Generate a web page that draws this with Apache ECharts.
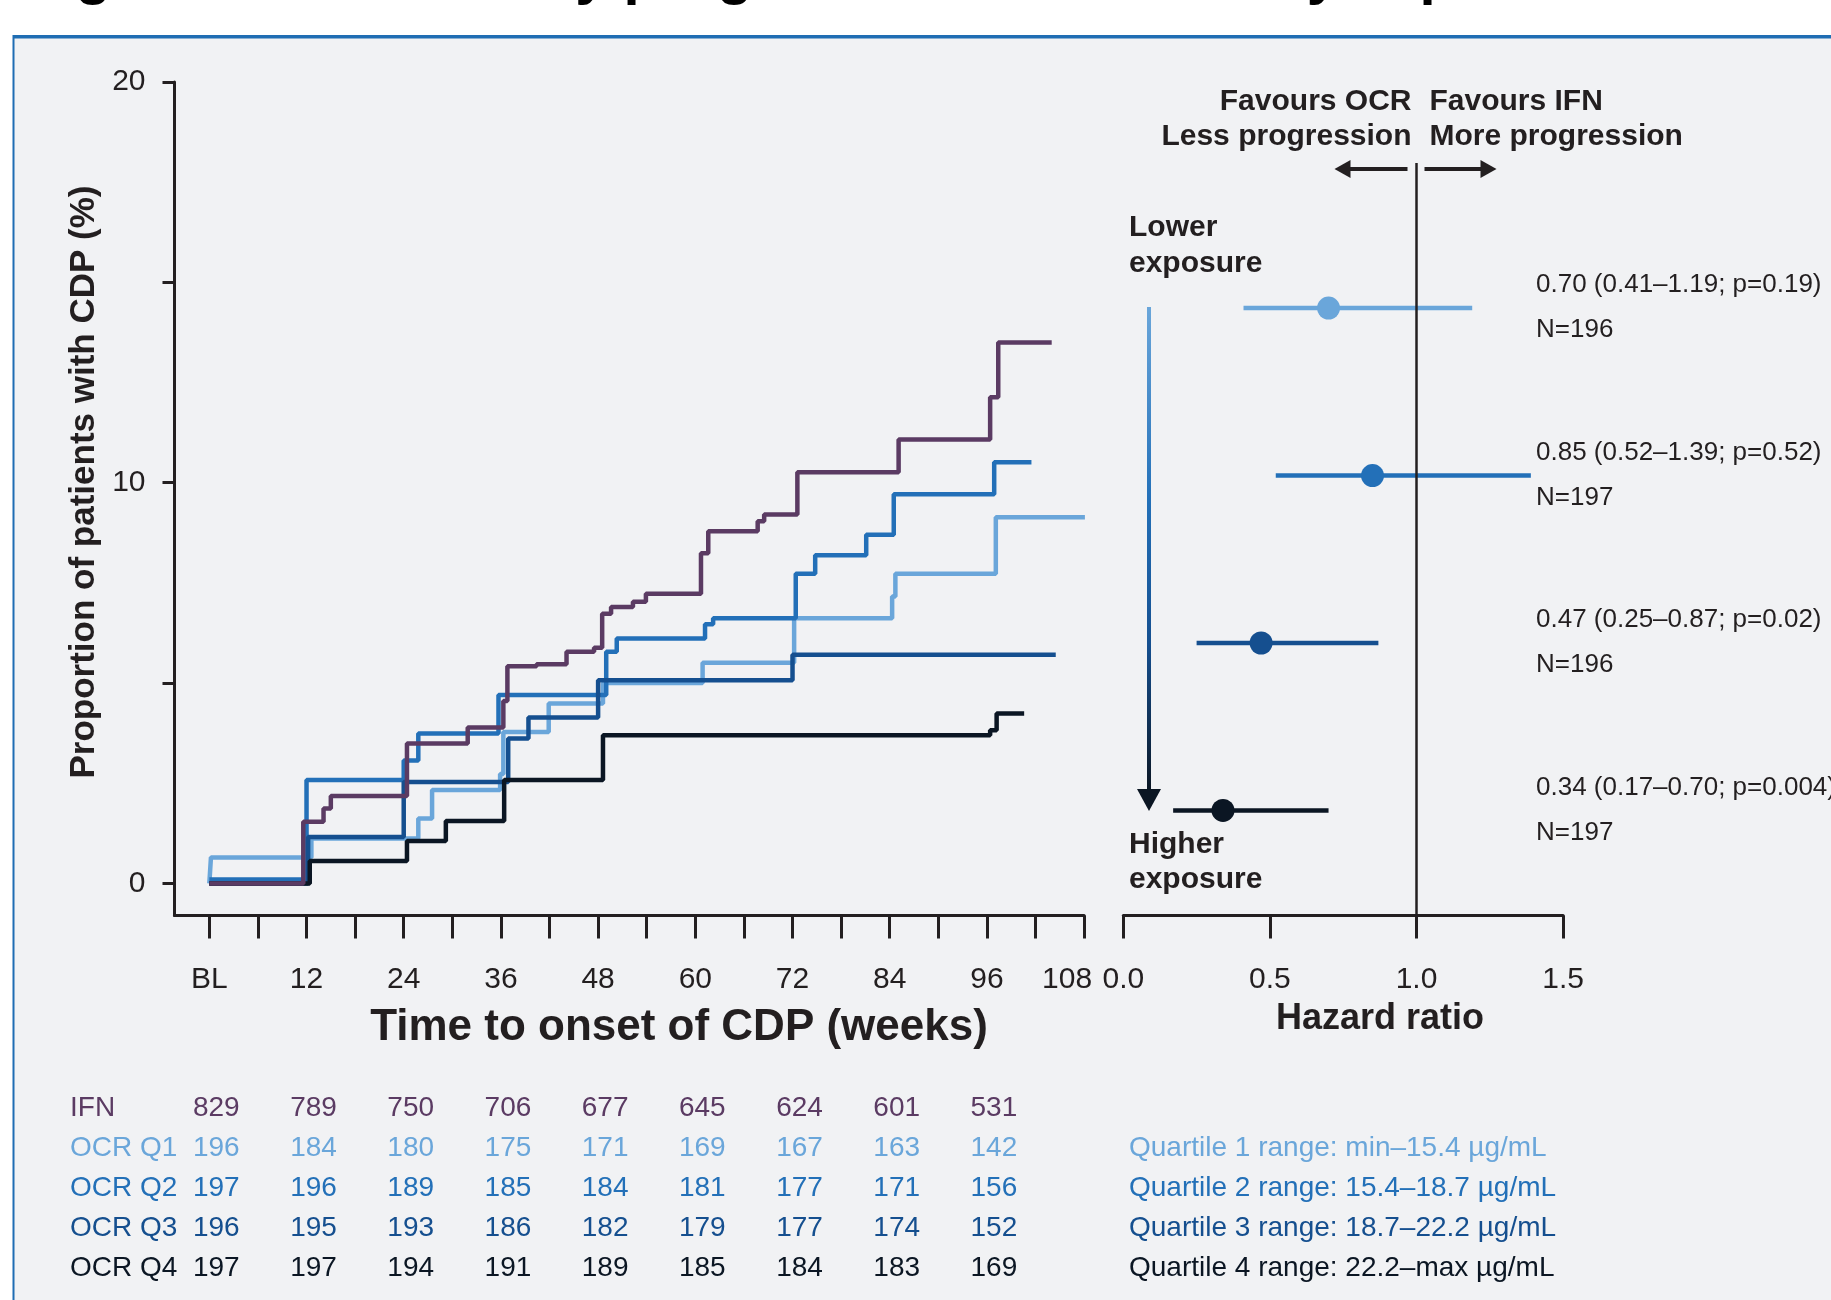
<!DOCTYPE html>
<html>
<head>
<meta charset="utf-8">
<title>Time to onset of CDP by exposure</title>
<script src="https://cdn.jsdelivr.net/npm/echarts@6/dist/echarts.min.js"></script>
<style>
  html, body { margin: 0; padding: 0; background: #fff; }
  #chart { width: 1831px; height: 1300px; }
</style>
</head>
<body>
<div id="chart"></div>
<script>
  // step curves: [week, % of patients with CDP]
  const ifnCurve = [[0, 0], [11.6, 1.54], [14.1, 1.87], [15.0, 2.18], [24.4, 3.49], [31.9, 3.89], [36.3, 4.55], [36.8, 5.42], [40.4, 5.47], [44.1, 5.78], [47.5, 5.88], [48.5, 6.73], [49.6, 6.90], [52.3, 7.03], [53.9, 7.23], [60.7, 8.24], [61.6, 8.79], [67.7, 9.04], [68.5, 9.21], [72.6, 10.26], [85.1, 11.08], [96.4, 12.13], [97.4, 13.50], [104.0, 13.50]]
  const q1Curve = [[0, 0], [0.2, 0.65], [12.6, 1.12], [25.8, 1.62], [27.5, 2.33], [35.9, 2.73], [36.3, 3.78], [41.9, 4.49], [48.6, 5.00], [60.9, 5.51], [72.2, 6.62], [84.3, 7.16], [84.7, 7.73], [97.1, 9.14], [108.1, 9.14]]
  const q2Curve = [[0, 0.1], [12.0, 2.58], [24.0, 3.07], [25.8, 3.74], [35.7, 4.70], [49.0, 5.78], [50.3, 6.11], [61.2, 6.47], [62.2, 6.62], [72.4, 7.73], [74.8, 8.19], [81.1, 8.70], [84.5, 9.71], [96.9, 10.51], [101.5, 10.51]]
  const q3Curve = [[0, 0], [12.2, 1.16], [24.0, 2.53], [36.9, 3.62], [39.4, 4.14], [48.0, 5.07], [72.0, 5.71], [104.5, 5.71]]
  const q4Curve = [[0, 0], [12.4, 0.56], [24.4, 1.06], [29.2, 1.56], [36.4, 2.58], [48.6, 3.70], [96.4, 3.82], [97.2, 4.24], [100.6, 4.24]]

  const weekTicks = [0, 6, 12, 18, 24, 30, 36, 42, 48, 54, 60, 66, 72, 78, 84, 90, 96, 102, 108]
  const weekLabels = [0, 12, 24, 36, 48, 60, 72, 84, 96, 108]
  const pctTicks = [0, 5, 10, 15, 20]
  const pctLabels = [0, 10, 20]

  // hazard ratios
  const hrGroups = ['OCR Q1', 'OCR Q2', 'OCR Q3', 'OCR Q4']
  const hrValues = [0.70, 0.85, 0.47, 0.34]
  const hrLower = [0.41, 0.52, 0.25, 0.17]
  const hrUpper = [1.19, 1.39, 0.87, 0.70]
  const hrP = ['0.19', '0.52', '0.02', '0.004']
  const hrN = [196, 197, 196, 197]
  const hrTicks = [0, 0.5, 1.0, 1.5]

  // patients at risk
  const riskRows = ['IFN', 'OCR Q1', 'OCR Q2', 'OCR Q3', 'OCR Q4']
  const riskWeeks = [0, 12, 24, 36, 48, 60, 72, 84, 96]
  const riskIFN = [829, 789, 750, 706, 677, 645, 624, 601, 531]
  const riskQ1 = [196, 184, 180, 175, 171, 169, 167, 163, 142]
  const riskQ2 = [197, 196, 189, 185, 184, 181, 177, 171, 156]
  const riskQ3 = [196, 195, 193, 186, 182, 179, 177, 174, 152]
  const riskQ4 = [197, 197, 194, 191, 189, 185, 184, 183, 169]
  const quartileRanges = [
    'Quartile 1 range: min\u201315.4 \u00b5g/mL',
    'Quartile 2 range: 15.4\u201318.7 \u00b5g/mL',
    'Quartile 3 range: 18.7\u201322.2 \u00b5g/mL',
    'Quartile 4 range: 22.2\u2013max \u00b5g/mL'
  ]

  const colIFN = '#5b3b63'
  const colQ = ['#6aa6da', '#2370b8', '#154f8f', '#0b1623']
  const ink = '#231f20'
  const font = "'Liberation Sans', Arial, sans-serif"

  let myChart = echarts.init(document.getElementById('chart'))

  function kmSeries (name, data, color) {
    return {
      name: name,
      type: 'line',
      step: 'end',
      xAxisIndex: 0,
      yAxisIndex: 0,
      data: data,
      showSymbol: false,
      symbol: 'none',
      lineStyle: { color: color, width: 4.5 },
      z: 3
    }
  }

  let series = [
    kmSeries('OCR Q1', q1Curve, colQ[0]),
    kmSeries('OCR Q2', q2Curve, colQ[1]),
    kmSeries('OCR Q3', q3Curve, colQ[2]),
    kmSeries('OCR Q4', q4Curve, colQ[3]),
    kmSeries('IFN', ifnCurve, colIFN)
  ]

  // forest rows: Q1 on top
  hrGroups.forEach((g, i) => {
    let row = hrGroups.length - i
    series.push({
      name: g + ' CI',
      type: 'line',
      xAxisIndex: 1,
      yAxisIndex: 1,
      data: [[hrLower[i], row], [hrUpper[i], row]],
      symbol: 'none',
      lineStyle: { color: colQ[i], width: 4.5 },
      z: 3,
      markLine: i === 0 ? {
        silent: true,
        symbol: 'none',
        label: { show: false },
        lineStyle: { color: ink, width: 2.5, type: 'solid' },
        data: [{ xAxis: 1 }]
      } : undefined
    })
    series.push({
      name: g,
      type: 'scatter',
      xAxisIndex: 1,
      yAxisIndex: 1,
      data: [[hrValues[i], row]],
      symbolSize: 23,
      itemStyle: { color: colQ[i], opacity: 1 },
      z: 4
    })
  })

  let axisText = { color: ink, fontSize: 30, fontFamily: font }

  let option = {
    animation: false,
    backgroundColor: '#ffffff',
    grid: [
      { left: 174.5, top: 82, width: 909.6, height: 833.5 },
      { left: 1123.3, top: 163, width: 439.8, height: 752.5 }
    ],
    xAxis: [
      {
        gridIndex: 0,
        type: 'value',
        min: -4.3,
        max: 108,
        axisLine: { onZero: false, lineStyle: { color: ink, width: 3 } },
        axisTick: { customValues: weekTicks, length: 23, lineStyle: { color: ink, width: 3 } },
        axisLabel: Object.assign({
          customValues: weekLabels,
          margin: 49,
          formatter: v => v === 0 ? 'BL' : (v === 108 ? '{s|108}' : String(v)),
          rich: { s: { fontSize: 30, color: ink, fontFamily: font, padding: [0, 34, 0, 0] } }
        }, axisText),
        splitLine: { show: false }
      },
      {
        gridIndex: 1,
        type: 'value',
        min: 0,
        max: 1.5,
        axisLine: { onZero: false, lineStyle: { color: ink, width: 3 } },
        axisTick: { customValues: hrTicks, length: 23, lineStyle: { color: ink, width: 3 } },
        axisLabel: Object.assign({
          customValues: hrTicks,
          margin: 49,
          formatter: v => v.toFixed(1)
        }, axisText),
        splitLine: { show: false }
      }
    ],
    yAxis: [
      {
        gridIndex: 0,
        type: 'value',
        min: -0.8,
        max: 20,
        axisLine: { show: true, onZero: false, lineStyle: { color: ink, width: 3 } },
        axisTick: { show: true, customValues: pctTicks, length: 12, lineStyle: { color: ink, width: 3 } },
        axisLabel: Object.assign({ customValues: pctLabels, margin: 29 }, axisText),
        splitLine: { show: false }
      },
      {
        gridIndex: 1,
        type: 'value',
        min: 0.373,
        max: 4.866,
        show: false,
        splitLine: { show: false }
      }
    ],
    series: series
  }
  myChart.setOption(option)

  // texts and decorations placed from the axes
  let els = []
  els.push({ type: 'rect', shape: { x: 12.5, y: 35, width: 1900, height: 1400 }, style: { fill: '#1f6db3' }, z: -100 })
  els.push({ type: 'rect', shape: { x: 14.5, y: 38.5, width: 1900, height: 1400 }, style: { fill: '#f1f2f4' }, z: -99 })
  els.push({
    type: 'text', x: 24, y: -23,
    style: { text: 'Figure 2. CDP risk by progression in IFN and by exposure', fill: '#000', font: 'bold 58px ' + font, align: 'left', verticalAlign: 'middle' },
    z: 10
  })

  function txt (text, x, y, size, color, opts) {
    opts = opts || {}
    return {
      type: 'text', x: x, y: y, rotation: opts.rotation || 0,
      style: {
        text: text,
        fill: color,
        font: (opts.bold ? 'bold ' : '') + size + 'px ' + font,
        align: opts.align || 'left',
        verticalAlign: 'middle'
      },
      z: 10
    }
  }

  els.push(txt('Proportion of patients with CDP (%)', 84, 482, 35, ink, { bold: true, align: 'center', rotation: Math.PI / 2 }))
  els.push(txt('Time to onset of CDP (weeks)', 679, 1028, 44, ink, { bold: true, align: 'center' }))
  els.push(txt('Hazard ratio', 1380, 1019, 36, ink, { bold: true, align: 'center' }))

  // favours header with arrows
  let oneX = myChart.convertToPixel({ xAxisIndex: 1 }, 1)
  els.push(txt('Favours OCR', oneX - 5, 102, 30, ink, { bold: true, align: 'right' }))
  els.push(txt('Less progression', oneX - 5, 137, 30, ink, { bold: true, align: 'right' }))
  els.push(txt('Favours IFN', oneX + 13, 102, 30, ink, { bold: true }))
  els.push(txt('More progression', oneX + 13, 137, 30, ink, { bold: true }))
  els.push({ type: 'line', shape: { x1: oneX - 9, y1: 169, x2: oneX - 68, y2: 169 }, style: { stroke: ink, lineWidth: 4 }, z: 10 })
  els.push({ type: 'polygon', shape: { points: [[oneX - 82, 169], [oneX - 66, 160], [oneX - 66, 178]] }, style: { fill: ink }, z: 10 })
  els.push({ type: 'line', shape: { x1: oneX + 8, y1: 169, x2: oneX + 66, y2: 169 }, style: { stroke: ink, lineWidth: 4 }, z: 10 })
  els.push({ type: 'polygon', shape: { points: [[oneX + 80, 169], [oneX + 64, 160], [oneX + 64, 178]] }, style: { fill: ink }, z: 10 })

  // exposure arrow
  els.push(txt('Lower', 1129, 228, 30, ink, { bold: true }))
  els.push(txt('exposure', 1129, 264, 30, ink, { bold: true }))
  els.push(txt('Higher', 1129, 845, 30, ink, { bold: true }))
  els.push(txt('exposure', 1129, 880, 30, ink, { bold: true }))
  els.push({
    type: 'rect', shape: { x: 1147, y: 307, width: 4, height: 484 },
    style: {
      fill: new echarts.graphic.LinearGradient(0, 0, 0, 1, [
        { offset: 0, color: colQ[0] },
        { offset: 0.4, color: colQ[1] },
        { offset: 0.7, color: colQ[2] },
        { offset: 1, color: colQ[3] }
      ])
    },
    z: 10
  })
  els.push({ type: 'polygon', shape: { points: [[1137, 789], [1161, 789], [1149, 811]] }, style: { fill: colQ[3] }, z: 10 })

  // HR annotations
  hrGroups.forEach((g, i) => {
    let rowY = myChart.convertToPixel({ yAxisIndex: 1 }, hrGroups.length - i)
    let label = hrValues[i].toFixed(2) + ' (' + hrLower[i].toFixed(2) + '\u2013' + hrUpper[i].toFixed(2) + '; p=' + hrP[i] + ')'
    els.push(txt(label, 1536, rowY - 23, 26, ink))
    els.push(txt('N=' + hrN[i], 1536, rowY + 22, 26, ink))
  })

  // numbers at risk
  let riskData = [riskIFN, riskQ1, riskQ2, riskQ3, riskQ4]
  let riskColors = [colIFN].concat(colQ)
  riskRows.forEach((r, i) => {
    let y = 1108.5 + i * 40
    els.push(txt(r, 70, y, 28, riskColors[i]))
    riskWeeks.forEach((w, j) => {
      let x = myChart.convertToPixel({ xAxisIndex: 0 }, w) + 7
      els.push(txt(String(riskData[i][j]), x, y, 28, riskColors[i], { align: 'center' }))
    })
    if (i > 0) {
      els.push(txt(quartileRanges[i - 1], 1129, y, 28, riskColors[i]))
    }
  })

  myChart.setOption({ graphic: { elements: els } })
</script>
</body>
</html>
